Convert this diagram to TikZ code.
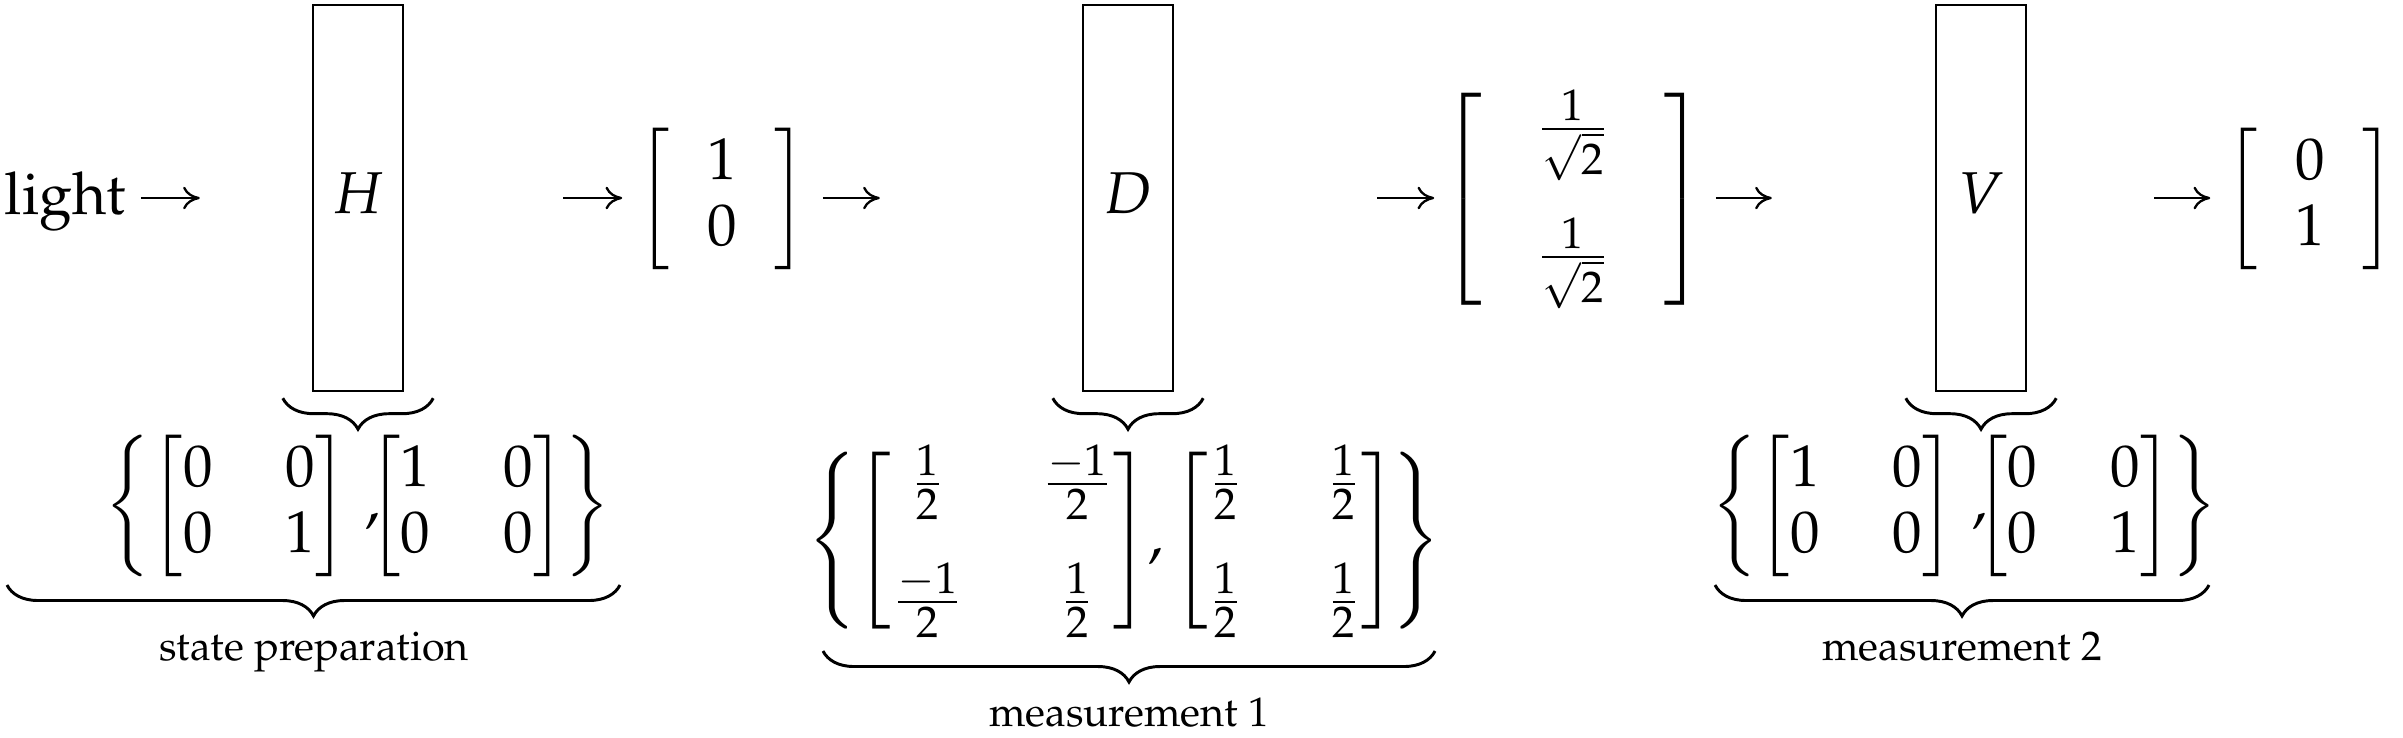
\documentclass[tikz,border=0pt]{standalone}
\usepackage[T1]{fontenc}
\usepackage{amsmath}
\usepackage{mathpazo}
\usetikzlibrary{arrows.meta,decorations.pathreplacing}
\tikzset{
  gateBox/.style={draw,line width=0.5pt,minimum width=18.3pt,minimum height=78.5pt,inner sep=0pt,text depth=2pt},
  flowArrow/.style={-{To[length=3.4pt,width=4.6pt]},line width=0.47pt},
  underBrace/.style={decorate,decoration={brace,mirror,amplitude=6.3pt},line width=0.6pt},
  braceLabel/.style={font=\fontsize{8.4}{10}\selectfont,inner sep=0pt,anchor=base}
}
\newcommand{\halfp}{\frac{1}{2}}
\newcommand{\halfm}{\frac{-1}{2}}
\newcommand{\invrt}{\frac{1}{\sqrt{2}}}
\newcommand{\setcomma}{\hspace{1.6pt},\hspace{-4.4pt}}

\begin{document}
\begin{tikzpicture}[x=0.2034pt,y=-0.2034pt,font=\fontsize{12}{13.4}\selectfont]
  \useasboundingbox (0,0) rectangle (2403,737);
  % light source and the three polarisers
  \node[anchor=base west,inner sep=0pt] (light) at (4,214) {light};
  \node[gateBox] (gateH) at (358,198) {$H$};
  \node[gateBox] (gateD) at (1128,198) {$D$};
  \node[gateBox] (gateV) at (1981,198) {$V$};
  % states after each step
  \node[inner sep=0pt] (stateA) at (722,199)
    {$\left[\hspace{7.5pt}\begin{matrix}1\\0\end{matrix}\hspace{7.5pt}\right]$};
  \node[inner sep=0pt] (stateB) at (1573,199)
    {$\left[\hspace{11pt}\begin{matrix}\invrt\\[11pt]\invrt\end{matrix}\hspace{11pt}\right]$};
  \node[inner sep=0pt] (stateC) at (2310,199)
    {$\left[\hspace{7.5pt}\begin{matrix}0\\1\end{matrix}\hspace{7.5pt}\right]$};
  \draw[flowArrow] ([shift={(-171,0)}]gateH.west) -- ([shift={(-112,0)}]gateH.west);
  \draw[flowArrow] ([shift={(159,0)}]gateH.east) -- ([shift={(218,0)}]gateH.east);
  \draw[flowArrow] ([shift={(-259,0)}]gateD.west) -- ([shift={(-202,0)}]gateD.west);
  \draw[flowArrow] ([shift={(203,0)}]gateD.east) -- ([shift={(260,0)}]gateD.east);
  \draw[flowArrow] ([shift={(-219,0)}]gateV.west) -- ([shift={(-163,0)}]gateV.west);
  \draw[flowArrow] ([shift={(127,0)}]gateV.east) -- ([shift={(183,0)}]gateV.east);
  % projector sets under the boxes
  \draw[underBrace] ([shift={(-29,6)}]gateH.south west) -- ([shift={(29,6)}]gateH.south east);
  \draw[underBrace] ([shift={(-29,6)}]gateD.south west) -- ([shift={(29,6)}]gateD.south east);
  \draw[underBrace] ([shift={(-29,6)}]gateV.south west) -- ([shift={(29,6)}]gateV.south east);
  \node[inner sep=0pt] (prepSet) at (358,506)
    {$\left\{\setlength{\arraycolsep}{7.4pt}\begin{bmatrix}0&0\\0&1\end{bmatrix}\setcomma\begin{bmatrix}1&0\\0&0\end{bmatrix}\right\}$};
  \node[inner sep=0pt] (measSetA) at (1124,541)
    {$\left\{{\setlength{\arraycolsep}{8pt}\begin{bmatrix}\halfp&\halfm\\[9pt]\halfm&\halfp\end{bmatrix}},
      {\setlength{\arraycolsep}{8.55pt}\begin{bmatrix}\halfp&\halfp\\[9pt]\halfp&\halfp\end{bmatrix}}\hspace{-1pt}\right\}$};
  \node[inner sep=0pt] (measSetB) at (1965,506)
    {$\left\{\setlength{\arraycolsep}{7.4pt}\begin{bmatrix}1&0\\0&0\end{bmatrix}\setcomma\begin{bmatrix}0&0\\0&1\end{bmatrix}\right\}$};
  \draw[underBrace] (7,585) -- (620,585);
  \draw[underBrace] (823,651) -- (1435,651);
  \draw[underBrace] (1715,585) -- (2209,585);
  \node[braceLabel] (prepLabel) at (314,660) {state preparation};
  \node[braceLabel] (measLabelA) at (1129,726) {measurement 1};
  \node[braceLabel] (measLabelB) at (1962,660) {measurement 2};
\end{tikzpicture}
\end{document}
